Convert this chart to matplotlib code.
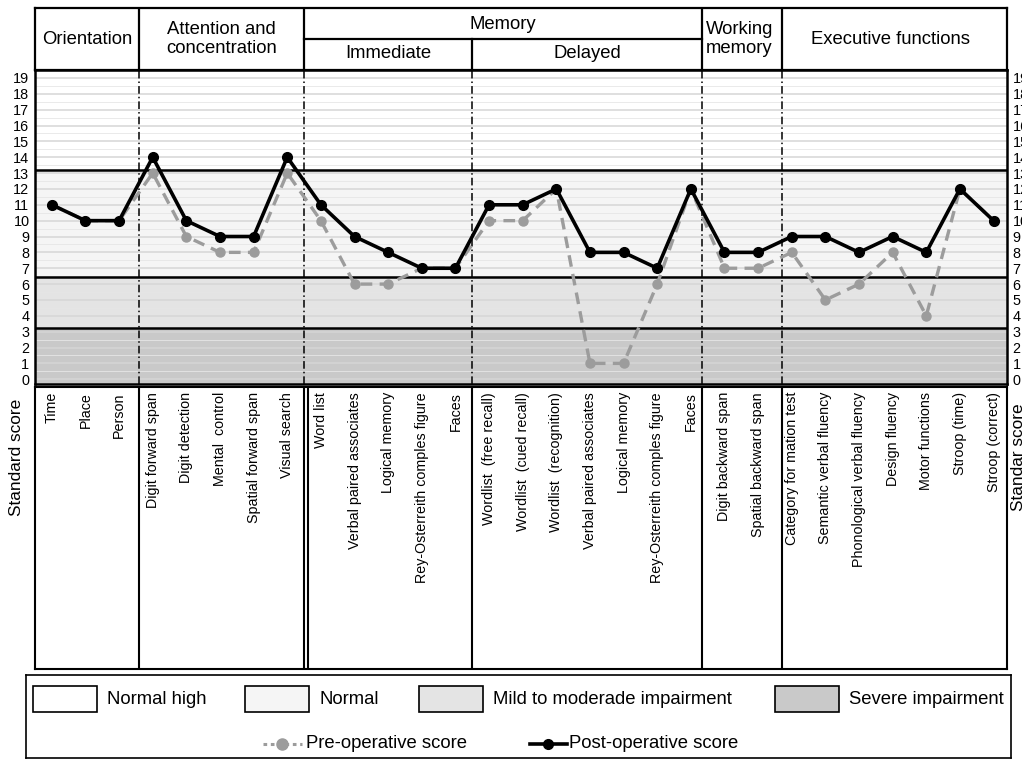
import numpy as np
import matplotlib
matplotlib.use("Agg")
import matplotlib.pyplot as plt
from matplotlib.patches import Rectangle

plt.rcParams['font.family'] = ['Liberation Sans', 'DejaVu Sans']

# tests along the x axis
tests = ["Time", "Place", "Person",
         "Digit forward span", "Digit detection", "Mental  control",
         "Spatial forward span", "Visual search",
         "Word list", "Verbal paired associates", "Logical memory",
         "Rey-Osterreith comples figure", "Faces",
         "Wordlist  (free recall)", "Wordlist  (cued recall)", "Wordlist  (recognition)",
         "Verbal paired associates", "Logical memory",
         "Rey-Osterreith comples figure", "Faces",
         "Digit backward span", "Spatial backward span",
         "Category for mation test", "Semantic verbal fluency",
         "Phonological verbal fluency", "Design fluency", "Motor functions",
         "Stroop (time)", "Stroop (correct)"]

pre_op = [11, 10, 10, 13, 9, 8, 8, 13, 10, 6, 6, 7, 7,
          10, 10, 12, 1, 1, 6, 12, 7, 7, 8, 5, 6, 8, 4, 12, 10]
post_op = [11, 10, 10, 14, 10, 9, 9, 14, 11, 9, 8, 7, 7,
           11, 11, 12, 8, 8, 7, 12, 8, 8, 9, 9, 8, 9, 8, 12, 10]

# group separators (in test index units) and score zones
separators = [2.6, 7.5, 12.5, 19.32, 21.71]
zone_edges = [-0.3, 3.2, 6.45, 13.2, 19.5]
zone_colors = ['#c9c9c9', '#e4e4e4', '#f5f5f5', '#ffffff']
zone_names = ["Severe impairment", "Mild to moderade impairment", "Normal", "Normal high"]

W, H = 1022, 759
XLIM = (-0.5, 28.4)


def px_box(x0, y0, x1, y1):
    return [x0 / W, 1 - y1 / H, (x1 - x0) / W, (y1 - y0) / H]


fig = plt.figure(figsize=(W / 100, H / 100), dpi=100)

# main plot
ax = fig.add_axes(px_box(35, 70, 1007, 384))
for lo, hi, col in zip(zone_edges[:-1], zone_edges[1:], zone_colors):
    ax.axhspan(lo, hi, color=col, zorder=0, lw=0)
for v in range(0, 20):
    ax.axhline(v, color='#d6d6d6', lw=1.1, zorder=1)
for v in np.arange(0.5, 19.5, 1):
    ax.axhline(v, color='#e6e6e6', lw=0.6, zorder=1)
for b in zone_edges[1:-1]:
    ax.axhline(b, color='black', lw=1.8, zorder=2)
for s in separators:
    ax.axvline(s, color='black', lw=1.1, ls=(0, (5, 2, 1, 2)), zorder=2)

x = np.arange(len(tests))
ax.plot(x, pre_op, color='#9c9c9c', lw=2.4, dashes=(3.5, 2.2),
        marker='o', ms=6.5, zorder=3)
ax.plot(x, post_op, color='black', lw=2.6, marker='o', ms=7, zorder=4)

ax.set_xlim(*XLIM)
ax.set_ylim(zone_edges[0], zone_edges[-1])
ax.set_yticks(range(0, 20))
ax.set_xticks([])
ax.tick_params(axis='y', length=0, labelsize=10.4, pad=4, labelright=True)
for sp in ax.spines.values():
    sp.set_linewidth(1.8)

# header
hdr = fig.add_axes(px_box(35, 8, 1007, 70))
hdr.set_xlim(*XLIM)
hdr.set_ylim(0, 1)
hdr.set_xticks([])
hdr.set_yticks([])
for sp in hdr.spines.values():
    sp.set_linewidth(1.6)
for s in separators:
    if s == 12.5:
        hdr.plot([s, s], [0, 0.5], color='black', lw=1.6)
    else:
        hdr.axvline(s, color='black', lw=1.6)
hdr.plot([7.5, 19.32], [0.5, 0.5], color='black', lw=1.6)
hfs = 13.3
hdr.text(1.05, 0.5, "Orientation", ha='center', va='center', fontsize=hfs)
hdr.text(5.05, 0.5, "Attention and\nconcentration", ha='center', va='center', fontsize=hfs)
hdr.text(13.41, 0.74, "Memory", ha='center', va='center', fontsize=hfs)
hdr.text(10.0, 0.26, "Immediate", ha='center', va='center', fontsize=hfs)
hdr.text(15.91, 0.26, "Delayed", ha='center', va='center', fontsize=hfs)
hdr.text(20.45, 0.5, "Working\nmemory", ha='center', va='center', fontsize=hfs,
         multialignment='left')
hdr.text(24.95, 0.5, "Executive functions", ha='center', va='center', fontsize=hfs)

# test labels
lab = fig.add_axes(px_box(35, 387, 1007, 669))
lab.set_xlim(*XLIM)
lab.set_ylim(0, 1)
lab.set_xticks([])
lab.set_yticks([])
for sp in lab.spines.values():
    sp.set_linewidth(1.5)
for s in separators + [7.62]:
    lab.axvline(s, color='black', lw=1.5)
for i, name in enumerate(tests):
    lab.text(i, 0.982, name, rotation=90, ha='center', va='top', fontsize=10.3)

fig.text(17 / W, 1 - 457 / H, "Standard score", rotation=90,
         ha='center', va='center', fontsize=12.4)
fig.text(1018 / W, 1 - 457 / H, "Standar score", rotation=90,
         ha='center', va='center', fontsize=12.4)

# legend
leg = fig.add_axes(px_box(26, 675, 1011, 758))
leg.set_xlim(26, 1011)
leg.set_ylim(758, 675)
leg.set_xticks([])
leg.set_yticks([])
for sp in leg.spines.values():
    sp.set_linewidth(1.2)
patch_x = [33, 245, 419, 775]
legend_order = [3, 2, 1, 0]
for px0, k in zip(patch_x, legend_order):
    leg.add_patch(Rectangle((px0, 686), 64, 26, facecolor=zone_colors[k],
                            edgecolor='black', lw=1.2))
    leg.text(px0 + 74, 699, zone_names[k], ha='left', va='center', fontsize=hfs)

leg.plot([263, 302], [744, 744], color='#9c9c9c', lw=2.2, dashes=(1.2, 1.2))
leg.plot([282], [744], color='#9c9c9c', marker='o', ms=8)
leg.text(306, 744, "Pre-operative score", ha='left', va='center', fontsize=hfs)
leg.plot([530, 567], [744, 744], color='black', lw=2.6)
leg.plot([548], [744], color='black', marker='o', ms=7)
leg.text(569, 744, "Post-operative score", ha='left', va='center', fontsize=hfs)

fig.savefig("out.png", dpi=100)
